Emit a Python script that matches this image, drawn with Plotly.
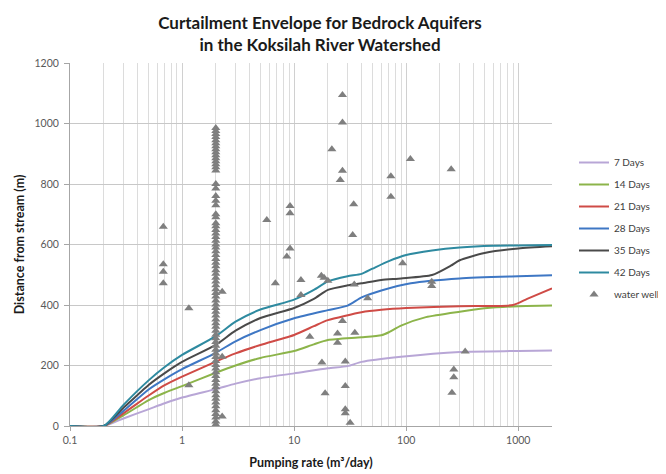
import plotly.graph_objects as go

# ---- data ----
d7_x = [0.1, 0.2, 0.3, 0.5, 0.7, 1, 2, 3, 5, 10, 20, 30, 40, 90, 300, 1000, 2000]
d7_y = [0, 0, 25, 55, 75, 94, 122, 140, 158, 174, 191, 198, 212, 229, 245, 248, 250]

d14_x = [0.1, 0.2, 0.3, 0.5, 0.7, 1, 2, 3, 5, 10, 15, 20, 40, 60, 70, 90, 150, 300, 500, 1000, 2000]
d14_y = [0, 0, 35, 85, 110, 132, 176, 200, 225, 248, 270, 284, 293, 300, 310, 332, 360, 378, 389, 396, 398]

d21_x = [0.1, 0.2, 0.3, 0.5, 0.7, 1, 2, 3, 5, 10, 15, 20, 40, 60, 100, 300, 900, 1200, 2000]
d21_y = [0, 0, 42, 100, 135, 163, 213, 240, 268, 301, 330, 350, 376, 384, 390, 396, 400, 420, 455]

d28_x = [0.1, 0.2, 0.3, 0.5, 0.7, 1, 2, 3, 5, 10, 20, 30, 40, 60, 110, 300, 1000, 2000]
d28_y = [0, 0, 50, 120, 155, 188, 242, 280, 317, 356, 383, 398, 425, 448, 472, 488, 495, 498]

d35_x = [0.1, 0.2, 0.3, 0.5, 0.7, 1, 2, 3, 5, 10, 15, 20, 30, 40, 60, 90, 170, 250, 300, 500, 1000, 2000]
d35_y = [0, 0, 60, 135, 175, 212, 268, 315, 357, 390, 420, 450, 465, 472, 483, 488, 499, 530, 548, 572, 587, 594]

d42_x = [0.1, 0.2, 0.3, 0.5, 0.7, 1, 2, 3, 5, 10, 15, 20, 30, 40, 50, 70, 100, 170, 300, 600, 1000, 2000]
d42_y = [0, 0, 70, 150, 195, 235, 297, 345, 385, 418, 450, 478, 495, 503, 520, 545, 565, 580, 590, 596, 597, 598]

# water wells: column at 2 m3/day
col2_y = [985, 975, 965, 955, 945, 935, 925, 915, 905, 895, 885, 875, 865, 855, 845,
          800, 785, 760, 745, 730, 700, 690,
          670, 660, 648, 636, 625, 612, 600, 590, 578, 565, 552, 540, 528, 515, 503,
          490, 478, 465, 452, 440, 428, 415, 402, 390, 378, 365, 352, 340, 328, 315,
          302, 290, 278, 265, 252, 240, 228, 215, 202, 190, 178, 165, 152, 140, 128,
          115, 102, 90, 78, 65, 52, 40, 28, 15, 5]
col2_x = [2] * len(col2_y)

other_x = [0.68, 0.68, 0.68, 0.68, 1.15, 1.15, 2.28, 2.28, 2.28,
           5.7, 6.8, 8.6, 9.2, 9.2, 9.2, 11.5, 11.5, 13.8, 17.5, 18.5, 20, 17.7, 18.9,
           21.7, 24.4, 24.4, 25.8, 27, 27, 27, 27, 28.6, 28.6, 28.6, 28.6, 31.6,
           33.3, 34, 34.4, 34.8, 45.3, 73, 73, 93, 109, 169, 169, 252, 256, 266, 266, 336]
other_y = [659, 535, 510, 472, 389, 135, 444, 229, 31,
           681, 472, 560, 727, 703, 587, 483, 433, 295, 497, 490, 480, 210, 108,
           915, 306, 275, 813, 1094, 1003, 844, 347, 213, 132, 55, 42, 11,
           631, 733, 468, 308, 422, 826, 758, 538, 883, 477, 463, 849, 110, 187, 161, 246]
wells_x = col2_x + other_x
wells_y = col2_y + other_y

x_tickvals = [0.1, 1, 10, 100, 1000]
x_ticktext = ["0.1", "1", "10", "100", "1000"]
y_tickvals = [0, 200, 400, 600, 800, 1000, 1200]

series = [
    ("7 Days", d7_x, d7_y, "#b8a6d6"),
    ("14 Days", d14_x, d14_y, "#8cb44a"),
    ("21 Days", d21_x, d21_y, "#cf4b46"),
    ("28 Days", d28_x, d28_y, "#3e77c4"),
    ("35 Days", d35_x, d35_y, "#4a4a4a"),
    ("42 Days", d42_x, d42_y, "#2e8aa0"),
]

FONT = "Lato, 'Open Sans', sans-serif"

fig = go.Figure()
for i, (name, xs, ys, col) in enumerate(series):
    fig.add_trace(go.Scatter(
        x=xs, y=ys, mode="lines", name=name,
        line=dict(color=col, width=2, shape="spline", smoothing=0.6),
        legendgroup=f"g{i}",
    ))
fig.add_trace(go.Scatter(
    x=wells_x, y=wells_y, mode="markers", name="water well",
    marker=dict(symbol="triangle-up", size=8, color="#7f7f7f", line=dict(width=0)),
    legendgroup="g6",
))

# page body has an 8px margin, so the figure is sized to fit the window
W, H = 658, 466
L, T = 62, 55
PW, PH = 482, 363
R = W - L - PW
B = H - T - PH

fig.update_layout(
    width=W, height=H,
    margin=dict(l=L, r=R, t=T, b=B, autoexpand=False),
    paper_bgcolor="white",
    plot_bgcolor="white",
    title=dict(
        text="<b>Curtailment Envelope for Bedrock Aquifers<br>in the Koksilah River Watershed</b>",
        x=312 / W, xref="container", xanchor="center",
        yref="container", y=1 - 20.5 / H, yanchor="middle",
        font=dict(family=FONT, size=17, color="#1a1a1a"),
    ),
    font=dict(family=FONT, color="#595959"),
    legend=dict(
        xref="container", yref="container",
        x=566 / W, y=1 - 140 / H, xanchor="left", yanchor="top",
        font=dict(size=10, color="#404040"),
        bgcolor="rgba(0,0,0,0)", traceorder="grouped", tracegroupgap=3,
        itemwidth=30,
    ),
    showlegend=True,
)

fig.update_xaxes(
    type="log", range=[-1, 3.30103], automargin=False,
    tickvals=x_tickvals, ticktext=x_ticktext,
    tickfont=dict(size=10.5, color="#595959"),
    showgrid=True, gridcolor="#d0d0d0", gridwidth=1,
    minor=dict(showgrid=True, gridcolor="#dcdcdc", dtick="D1", ticks=""),
    showline=True, linecolor="#a6a6a6", linewidth=1,
    ticks="outside", ticklen=4, tickcolor="#a6a6a6",
    zeroline=False,
    title=dict(text="<b>Pumping rate (m³/day)</b>", font=dict(size=12.5, color="#1a1a1a"), standoff=13),
)
fig.update_yaxes(
    range=[0, 1200], tickvals=y_tickvals, automargin=False,
    tickfont=dict(size=10.5, color="#595959"),
    ticklabelstandoff=3,
    showgrid=True, gridcolor="#c8c8c8", gridwidth=1,
    showline=True, linecolor="#a6a6a6", linewidth=1,
    ticks="outside", ticklen=5, tickcolor="#a6a6a6",
    zeroline=False,
    title=dict(text="<b>Distance from stream (m)</b>", font=dict(size=12.5, color="#1a1a1a"), standoff=7),
)

fig.write_html("out.html")
